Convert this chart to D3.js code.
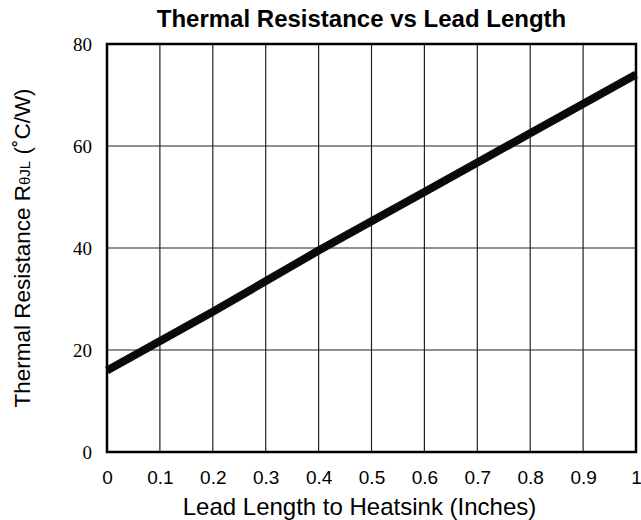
<!DOCTYPE html>
<html>
<head>
<meta charset="utf-8">
<script src="https://cdn.jsdelivr.net/npm/d3@7"></script>
<style>
  body { margin: 0; background: #fff; }
</style>
</head>
<body>
<div id="chart"></div>
<script>
let leadLength = [0, 0.2, 0.4, 0.6, 0.8, 1.0]
let resistance = [16, 27.5, 39.5, 51, 62.5, 74]
let xTicks = [0, 0.1, 0.2, 0.3, 0.4, 0.5, 0.6, 0.7, 0.8, 0.9, 1]
let yTicks = [0, 20, 40, 60, 80]

let margin = { top: 44, left: 107, right: 5, bottom: 68 }
let width = 641 - margin.left - margin.right
let height = 520 - margin.top - margin.bottom

let svg = d3
  .select('#chart')
  .append('svg')
  .attr('width', 641)
  .attr('height', 520)
  .append('g')
  .attr('transform', 'translate(' + margin.left + ',' + margin.top + ')')

let xPositionScale = d3.scaleLinear().domain([0, 1]).range([0, width])
let yPositionScale = d3.scaleLinear().domain([0, 80]).range([height, 0])

// grid
svg
  .selectAll('.vgrid')
  .data(xTicks)
  .enter()
  .append('line')
  .attr('class', 'vgrid')
  .attr('x1', d => xPositionScale(d))
  .attr('x2', d => xPositionScale(d))
  .attr('y1', 0)
  .attr('y2', height)
  .attr('stroke', '#222')
  .attr('stroke-width', 1.2)

svg
  .selectAll('.hgrid')
  .data(yTicks)
  .enter()
  .append('line')
  .attr('class', 'hgrid')
  .attr('x1', 0)
  .attr('x2', width)
  .attr('y1', d => yPositionScale(d))
  .attr('y2', d => yPositionScale(d))
  .attr('stroke', '#222')
  .attr('stroke-width', 1.2)

svg
  .append('rect')
  .attr('x', 0)
  .attr('y', 0)
  .attr('width', width)
  .attr('height', height)
  .attr('fill', 'none')
  .attr('stroke', '#000')
  .attr('stroke-width', 2.5)

let points = leadLength.map((d, i) => ({ x: d, y: resistance[i] }))

let line = d3
  .line()
  .x(d => xPositionScale(d.x))
  .y(d => yPositionScale(d.y))

svg
  .append('path')
  .datum(points)
  .attr('d', line)
  .attr('fill', 'none')
  .attr('stroke', '#0a0a0a')
  .attr('stroke-width', 8)

// axes
let xAxis = d3
  .axisBottom(xPositionScale)
  .tickValues(xTicks)
  .tickFormat(d => d3.format('~g')(d))
  .tickSize(0)
  .tickPadding(19)
svg
  .append('g')
  .attr('class', 'axis x-axis')
  .attr('transform', 'translate(0,' + height + ')')
  .call(xAxis)
  .call(g => g.select('.domain').remove())
  .selectAll('text')
  .attr('font-family', 'Liberation Sans, Arial, sans-serif')
  .attr('font-size', 19)
  .attr('fill', '#000')

let yAxis = d3
  .axisLeft(yPositionScale)
  .tickValues(yTicks)
  .tickSize(0)
  .tickPadding(15)
svg
  .append('g')
  .attr('class', 'axis y-axis')
  .call(yAxis)
  .call(g => g.select('.domain').remove())
  .selectAll('text')
  .attr('font-family', 'Liberation Serif, Times New Roman, serif')
  .attr('font-size', 19)
  .attr('fill', '#000')

// titles
svg
  .append('text')
  .attr('x', width / 2 - 10)
  .attr('y', -17)
  .attr('text-anchor', 'middle')
  .attr('font-family', 'Liberation Sans, Arial, sans-serif')
  .attr('font-weight', 'bold')
  .attr('font-size', 24)
  .text('Thermal Resistance vs Lead Length')

svg
  .append('text')
  .attr('x', width / 2 - 12)
  .attr('y', height + 63)
  .attr('text-anchor', 'middle')
  .attr('font-family', 'Liberation Sans, Arial, sans-serif')
  .attr('font-size', 24)
  .text('Lead Length to Heatsink (Inches)')

let yLabel = svg
  .append('text')
  .attr('transform', 'translate(' + (-77) + ',' + height / 2 + ') rotate(-90)')
  .attr('text-anchor', 'middle')
  .attr('font-family', 'Liberation Sans, Arial, sans-serif')
  .attr('font-size', 22.5)
yLabel.append('tspan').text('Thermal Resistance R')
yLabel.append('tspan').attr('font-size', 15).text('θJL')
yLabel.append('tspan').text(' (˚C/W)')
</script>
</body>
</html>
